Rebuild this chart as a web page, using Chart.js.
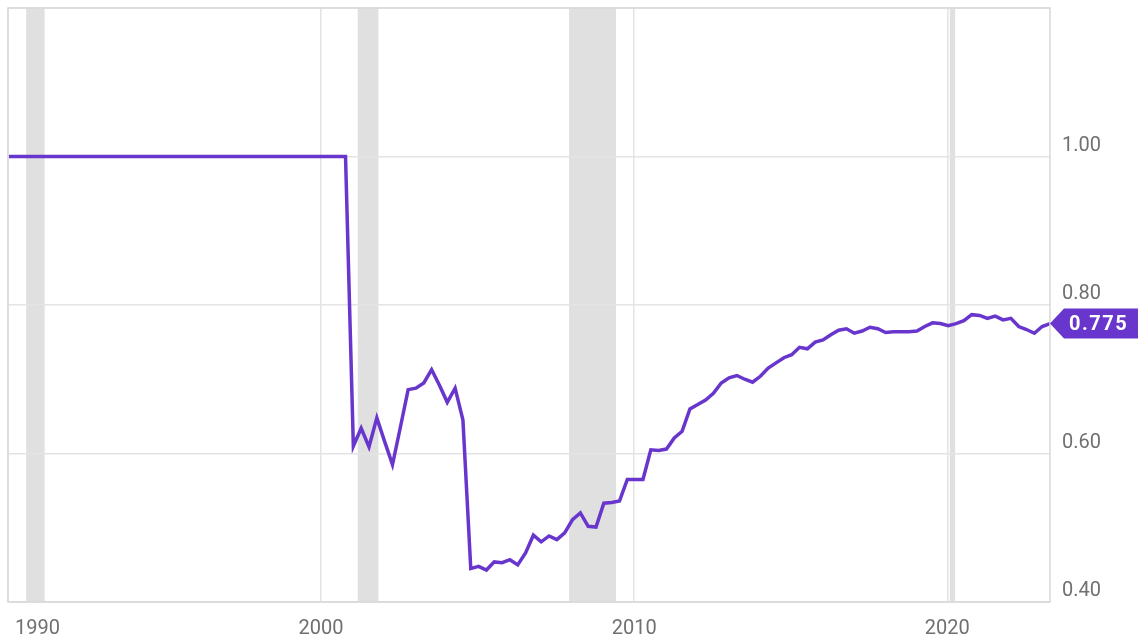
<!DOCTYPE html>
<html>
<head>
<meta charset="utf-8">
<script src="https://cdn.jsdelivr.net/npm/chart.js@4.4.0/dist/chart.umd.min.js"></script>
<style>
  html, body { margin: 0; padding: 0; background: #ffffff; }
  #wrap { width: 1138px; height: 644px; }
</style>
</head>
<body>
<div id="wrap"><canvas id="ratio-chart"></canvas></div>
<script>
// quarterly series, 1990 Q1 .. 2023 Q2
let firstYear = 1990;
let flatPart = [
  1.00, 1.00, 1.00, 1.00, 1.00, 1.00, 1.00, 1.00, 1.00, 1.00, 1.00,
  1.00, 1.00, 1.00, 1.00, 1.00, 1.00, 1.00, 1.00, 1.00, 1.00, 1.00,
  1.00, 1.00, 1.00, 1.00, 1.00, 1.00, 1.00, 1.00, 1.00, 1.00, 1.00,
  1.00, 1.00, 1.00, 1.00, 1.00, 1.00, 1.00, 1.00, 1.00, 1.00, 1.00
];
let laterPart = [
  0.610, 0.634, 0.609, 0.648, 0.616, 0.585, 0.635, 0.686, 0.688, 0.695, 0.713, 0.692, 0.669, 0.688, 0.645,
  0.445, 0.448, 0.443, 0.454, 0.453, 0.457, 0.450, 0.466, 0.490, 0.481, 0.489, 0.484, 0.493, 0.511, 0.520,
  0.502, 0.501, 0.533, 0.534, 0.536, 0.565, 0.565, 0.565, 0.605, 0.604, 0.606, 0.621, 0.630, 0.660, 0.666,
  0.672, 0.681, 0.695, 0.702, 0.705, 0.700, 0.696, 0.704, 0.715, 0.722, 0.729, 0.733, 0.743, 0.741, 0.750,
  0.753, 0.760, 0.766, 0.768, 0.762, 0.765, 0.770, 0.768, 0.763, 0.764, 0.764, 0.764, 0.765, 0.771, 0.776,
  0.775, 0.772, 0.775, 0.779, 0.787, 0.786, 0.782, 0.785, 0.780, 0.782, 0.771, 0.767, 0.762, 0.771, 0.775
];
let ratio = flatPart.concat(laterPart);
let lastLabel = "0.775";

// recessions (decimal years)
let recessionStart = [1990.58, 2001.17, 2007.92, 2020.08];
let recessionEnd = [1991.17, 2001.83, 2009.42, 2020.25];

let tickYears = [1990, 2000, 2010, 2020];
let yTicks = [0.4, 0.6, 0.8, 1.0, 1.2];

let purple = '#6836cc';
let labelColor = '#707070';
let gridColor = '#e4e4e4';

// quarter dates as decimal years
let quarters = [];
for (let i = 0; i < ratio.length; i++) {
  quarters.push(firstYear + i / 4 + 0.03);
}

let points = quarters.map((q, i) => ({ x: q, y: ratio[i] }));

// grey recession bands behind everything
let bandsPlugin = {
  id: 'bands',
  beforeDraw(chart) {
    let ctx = chart.ctx;
    let area = chart.chartArea;
    let xs = chart.scales.x;
    ctx.save();
    ctx.fillStyle = '#e0e0e0';
    for (let i = 0; i < recessionStart.length; i++) {
      let x1 = xs.getPixelForValue(recessionStart[i]);
      let x2 = xs.getPixelForValue(recessionEnd[i]);
      ctx.fillRect(x1, area.top, x2 - x1, area.bottom - area.top);
    }
    ctx.restore();
  }
};

// frame, year labels and the last value tag
let extrasPlugin = {
  id: 'extras',
  afterDraw(chart) {
    let ctx = chart.ctx;
    let area = chart.chartArea;
    let xs = chart.scales.x;
    let ys = chart.scales.y;
    ctx.save();
    ctx.strokeStyle = '#d8d8d8';
    ctx.lineWidth = 1.5;
    ctx.strokeRect(area.left, area.top, area.right - area.left, area.bottom - area.top);

    ctx.font = '20px Roboto';
    ctx.fillStyle = labelColor;
    ctx.textBaseline = 'middle';
    ctx.textAlign = 'left';
    tickYears.forEach(yr => {
      let txt = String(yr);
      let w = ctx.measureText(txt).width;
      let left = xs.getPixelForValue(yr) - w / 2;
      if (left < area.left + 7) left = area.left + 7;
      ctx.fillText(txt, left, area.bottom + 27);
    });

    let yv = ys.getPixelForValue(ratio[ratio.length - 1]);
    let x0 = area.right;
    ctx.fillStyle = purple;
    ctx.beginPath();
    ctx.moveTo(x0, yv);
    ctx.lineTo(x0 + 14, yv - 15);
    ctx.lineTo(chart.width, yv - 15);
    ctx.lineTo(chart.width, yv + 15);
    ctx.lineTo(x0 + 14, yv + 15);
    ctx.closePath();
    ctx.fill();
    ctx.fillStyle = '#ffffff';
    ctx.font = 'bold 20px Roboto';
    ctx.letterSpacing = '1.5px';
    ctx.fillText(lastLabel, x0 + 19, yv + 1);
    ctx.restore();
  }
};

let ctx = document.getElementById('ratio-chart').getContext('2d');
let ratioChart = new Chart(ctx, {
  type: 'line',
  data: {
    datasets: [{
      data: points,
      borderColor: purple,
      borderWidth: 3.5,
      pointRadius: 0,
      tension: 0,
      fill: false
    }]
  },
  options: {
    responsive: true,
    maintainAspectRatio: false,
    animation: false,
    layout: { padding: { left: 8, top: 8, right: 0, bottom: 0 } },
    plugins: {
      legend: { display: false },
      tooltip: { enabled: false }
    },
    scales: {
      x: {
        type: 'linear',
        min: 1990,
        max: 2023.28,
        afterBuildTicks: s => { s.ticks = tickYears.map(v => ({ value: v })); },
        afterFit: s => { s.height = 42; s.paddingLeft = 0; s.paddingRight = 0; },
        grid: { color: gridColor, lineWidth: 1.5, drawTicks: false },
        border: { display: false },
        ticks: { display: false }
      },
      y: {
        position: 'right',
        min: 0.4,
        max: 1.2,
        afterBuildTicks: s => { s.ticks = yTicks.map(v => ({ value: v })); },
        afterFit: s => { s.width = 88; s.paddingTop = 0; s.paddingBottom = 0; },
        grid: { color: gridColor, lineWidth: 1.5, drawTicks: false },
        border: { display: false },
        ticks: {
          padding: 12,
          labelOffset: -11,
          color: labelColor,
          font: { family: 'Roboto', size: 20 },
          callback: v => v > 1.1 ? '' : v.toFixed(2)
        }
      }
    }
  },
  plugins: [bandsPlugin, extrasPlugin]
});
</script>
</body>
</html>
